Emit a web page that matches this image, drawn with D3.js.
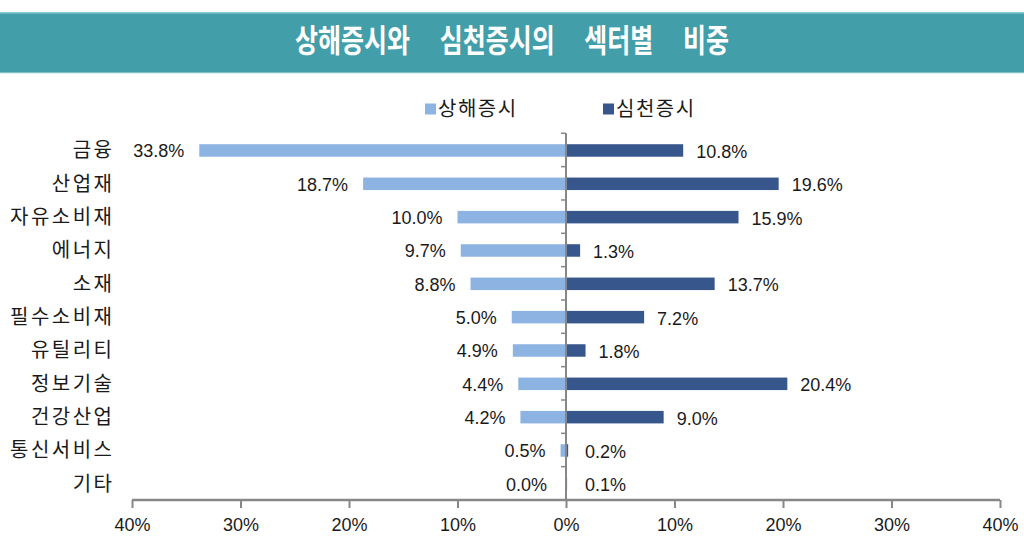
<!DOCTYPE html>
<html>
<head>
<meta charset="utf-8">
<script src="https://cdn.jsdelivr.net/npm/d3@7"></script>
<style>
  html, body { margin: 0; padding: 0; background: #fff; }
  svg { display: block; }
</style>
</head>
<body>
<svg id="chart" width="1024" height="545"></svg>
<script>
// ---- data ----
const title = "상해증시와 심천증시의 섹터별 비중";
const seriesNames = ["상해증시", "심천증시"];
const categories = ["금융", "산업재", "자유소비재", "에너지", "소재", "필수소비재", "유틸리티", "정보기술", "건강산업", "통신서비스", "기타"];
const shanghai = [33.8, 18.7, 10.0, 9.7, 8.8, 5.0, 4.9, 4.4, 4.2, 0.5, 0.0];
const shenzhen = [10.8, 19.6, 15.9, 1.3, 13.7, 7.2, 1.8, 20.4, 9.0, 0.2, 0.1];
const xTicks = [-40, -30, -20, -10, 0, 10, 20, 30, 40];

// ---- style ----
const colShanghai = "#8DB3E2";
const colShenzhen = "#36568C";
const axisColor = "#878787";
const korFont = "'Noto Sans CJK KR', 'Noto Sans', sans-serif";
const numFont = "'Liberation Sans', Arial, sans-serif";

const svg = d3.select("#chart");

// title band
svg.append("rect").attr("x", 0).attr("y", 12.5).attr("width", 1024).attr("height", 60.5)
  .attr("fill", "#429EA9");
svg.append("rect").attr("x", 0).attr("y", 12).attr("width", 1024).attr("height", 1.5)
  .attr("fill", "#8CCBCE");
svg.append("rect").attr("x", 0).attr("y", 72).attr("width", 1024).attr("height", 1.2)
  .attr("fill", "#7DBFC2");
svg.append("text")
  .attr("transform", "translate(512,52) scale(1,1.28)")
  .attr("text-anchor", "middle")
  .attr("font-family", korFont)
  .attr("font-weight", "bold")
  .attr("font-size", 25)
  .attr("word-spacing", 24)
  .attr("fill", "#fff")
  .text(title);

// scales
const x = d3.scaleLinear().domain([-40, 40]).range([132, 1000]);
const y = d3.scaleBand().domain(categories).range([133.3, 500]).paddingInner(0).paddingOuter(0);
const barH = 12.5;

const g = svg.append("g");

// bars
g.selectAll("rect.sh").data(categories).enter().append("rect")
  .attr("class", "sh")
  .attr("x", (d, i) => x(-shanghai[i]))
  .attr("y", d => y(d) + y.bandwidth() / 2 - barH / 2 + 0.5)
  .attr("width", (d, i) => x(0) - x(-shanghai[i]))
  .attr("height", barH)
  .attr("fill", colShanghai);

g.selectAll("rect.sz").data(categories).enter().append("rect")
  .attr("class", "sz")
  .attr("x", x(0))
  .attr("y", d => y(d) + y.bandwidth() / 2 - barH / 2 + 0.5)
  .attr("width", (d, i) => x(shenzhen[i]) - x(0))
  .attr("height", barH)
  .attr("fill", colShenzhen);

// value labels
g.selectAll("text.lsh").data(categories).enter().append("text")
  .attr("x", (d, i) => Math.min(x(-shanghai[i]) - 15, x(0) - 19))
  .attr("y", d => y(d) + y.bandwidth() / 2 + 1)
  .attr("dy", "0.36em")
  .attr("text-anchor", "end")
  .attr("font-family", numFont)
  .attr("font-size", 18)
  .attr("fill", "#1a1a1a")
  .text((d, i) => shanghai[i].toFixed(1) + "%");

g.selectAll("text.lsz").data(categories).enter().append("text")
  .attr("x", (d, i) => Math.max(x(shenzhen[i]) + 13, x(0) + 19))
  .attr("y", d => y(d) + y.bandwidth() / 2 + 1.5)
  .attr("dy", "0.36em")
  .attr("text-anchor", "start")
  .attr("font-family", numFont)
  .attr("font-size", 18)
  .attr("fill", "#1a1a1a")
  .text((d, i) => shenzhen[i].toFixed(1) + "%");

// category labels
const catSpacing = 2.5;
g.selectAll("text.cat").data(categories).enter().append("text")
  .attr("x", 112 + catSpacing)
  .attr("y", d => y(d) + y.bandwidth() / 2)
  .attr("dy", "0.36em")
  .attr("text-anchor", "end")
  .attr("font-family", korFont)
  .attr("font-size", 20)
  .attr("letter-spacing", catSpacing)
  .attr("fill", "#1a1a1a")
  .text(d => d);

// vertical axis at 0 with band ticks
const yAxisG = g.append("g");
yAxisG.append("line")
  .attr("x1", x(0)).attr("x2", x(0))
  .attr("y1", y.range()[0]).attr("y2", y.range()[1])
  .attr("stroke", axisColor).attr("stroke-width", 2);
const bandEdges = categories.map(d => y(d));
yAxisG.selectAll("line.t").data(bandEdges).enter().append("line")
  .attr("x1", x(0) - 5).attr("x2", x(0))
  .attr("y1", d => d).attr("y2", d => d)
  .attr("stroke", axisColor).attr("stroke-width", 1.5);

// horizontal axis
const xAxis = d3.axisBottom(x).tickValues(xTicks).tickSize(8).tickPadding(10)
  .tickFormat(d => Math.abs(d) + "%");
const xg = g.append("g").attr("transform", "translate(0,500)").call(xAxis);
xg.select(".domain").attr("stroke", axisColor).attr("stroke-width", 2.5)
  .attr("d", `M${x(-40)},0H${x(40)}`);
xg.selectAll(".tick line").attr("stroke", axisColor).attr("stroke-width", 2);
xg.selectAll(".tick text")
  .attr("font-family", numFont)
  .attr("font-size", 18)
  .attr("fill", "#1a1a1a");

// legend
const legend = svg.append("g");
const legendX = [425, 603];
const legendColors = [colShanghai, colShenzhen];
seriesNames.forEach((name, i) => {
  legend.append("rect")
    .attr("x", legendX[i]).attr("y", 103.5)
    .attr("width", 11).attr("height", 11)
    .attr("fill", legendColors[i]);
  legend.append("text")
    .attr("x", legendX[i] + 13)
    .attr("y", 109)
    .attr("dy", "0.36em")
    .attr("font-family", korFont)
    .attr("font-size", 20)
    .attr("letter-spacing", 1.5)
    .attr("fill", "#1a1a1a")
    .text(name);
});
</script>
</body>
</html>
